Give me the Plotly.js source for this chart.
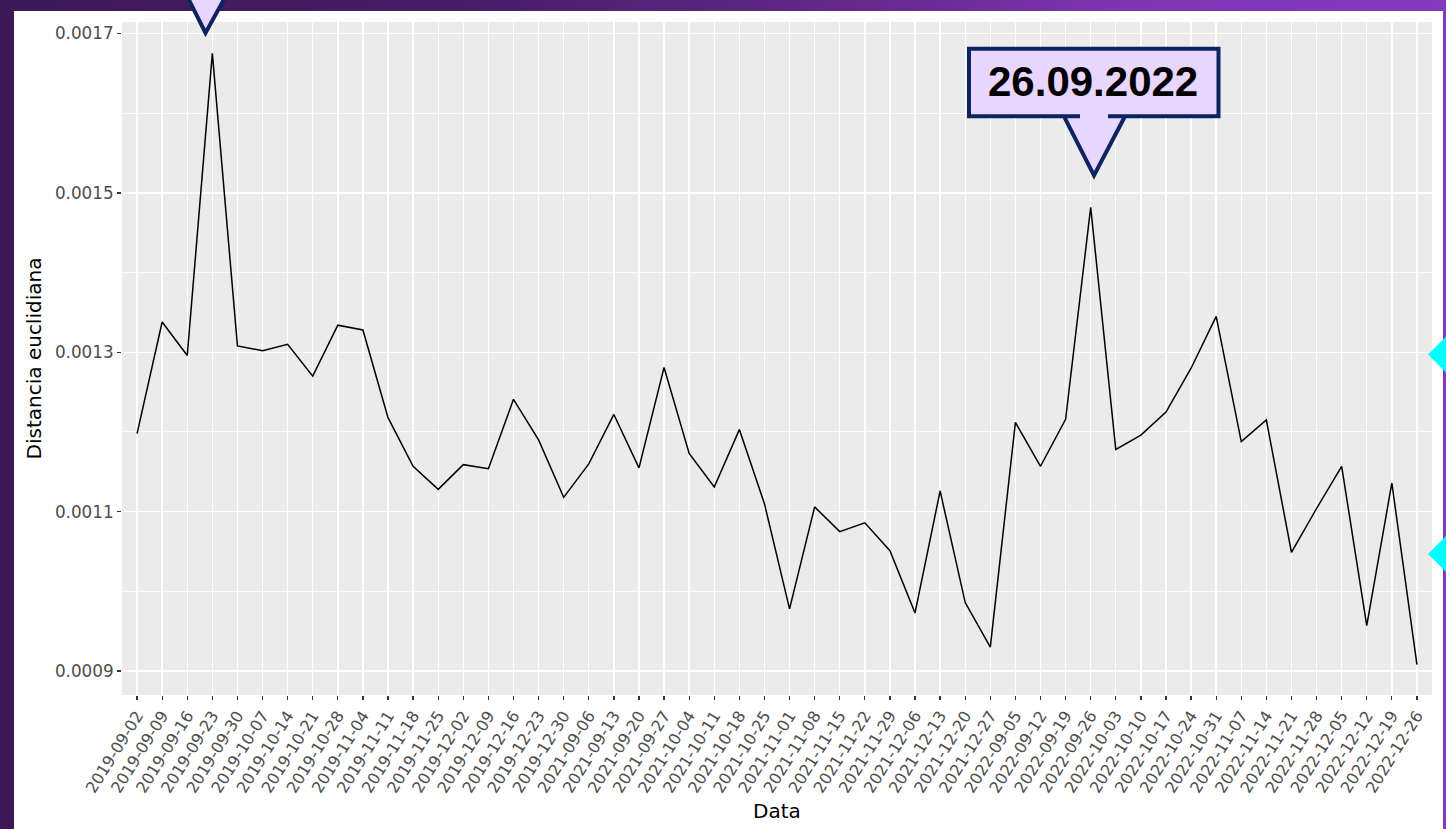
<!DOCTYPE html>
<html>
<head>
<meta charset="utf-8">
<script src="https://cdn.plot.ly/plotly-3.0.1.min.js"></script>
<style>
  html, body { margin: 0; padding: 0; width: 1446px; height: 829px; overflow: hidden; }
  body { background: linear-gradient(90deg, #3c1857 0%, #4a1e6a 35%, #66298f 60%, #8036b5 80%, #8539bd 100%); position: relative; }
  #card { position: absolute; left: 14px; top: 11px; width: 1429px; height: 818px; background: #ffffff; }
  #chart { position: absolute; left: 0; top: 0; width: 1446px; height: 829px; }
</style>
</head>
<body>
<div id="card"></div>
<div id="chart"></div>
<script>
// ---- data ----
const weeks = [
  "2019-09-02","2019-09-09","2019-09-16","2019-09-23","2019-09-30","2019-10-07","2019-10-14",
  "2019-10-21","2019-10-28","2019-11-04","2019-11-11","2019-11-18","2019-11-25","2019-12-02",
  "2019-12-09","2019-12-16","2019-12-23","2019-12-30",
  "2021-09-06","2021-09-13","2021-09-20","2021-09-27","2021-10-04","2021-10-11","2021-10-18",
  "2021-10-25","2021-11-01","2021-11-08","2021-11-15","2021-11-22","2021-11-29","2021-12-06",
  "2021-12-13","2021-12-20","2021-12-27",
  "2022-09-05","2022-09-12","2022-09-19","2022-09-26","2022-10-03","2022-10-10","2022-10-17",
  "2022-10-24","2022-10-31","2022-11-07","2022-11-14","2022-11-21","2022-11-28","2022-12-05",
  "2022-12-12","2022-12-19","2022-12-26"
];
const distancia = [
  0.001198, 0.001338, 0.001296, 0.001675, 0.001308, 0.001302, 0.001310,
  0.001270, 0.001334, 0.001328, 0.001218, 0.001157, 0.001128, 0.001159,
  0.001154, 0.001241, 0.001190, 0.001118,
  0.001160, 0.001222, 0.001155, 0.001281, 0.001173, 0.001131, 0.001203,
  0.001110, 0.000978, 0.001106, 0.001075, 0.001086, 0.001051, 0.000973,
  0.001126, 0.000986, 0.000930,
  0.001212, 0.001157, 0.001216, 0.001482, 0.001178, 0.001196, 0.001225,
  0.001280, 0.001345, 0.001188, 0.001215, 0.001049, 0.001104, 0.001157,
  0.000957, 0.001136, 0.000908
];
const yTickVals = [0.0009, 0.0011, 0.0013, 0.0015, 0.0017];
const yTickText = ["0.0009", "0.0011", "0.0013", "0.0015", "0.0017"];
const calloutText = "26.09.2022";

// ---- decoration geometry helpers (page px -> paper) ----
const W = 1446, H = 829;
const M = { l: 122, r: 14, t: 22, b: 134 };
const PW = W - M.l - M.r, PH = H - M.t - M.b;
function P(x, y) { return ((x - M.l) / PW).toFixed(5) + "," + ((H - M.b - y) / PH).toFixed(5); }

const navy = "#0d2460";
const lav = "#e9d6ff";

const shapes = [
  // top-left callout pointer (body hidden above the frame)
  { type: "path", xref: "paper", yref: "paper", layer: "above",
    path: "M" + P(185, -8) + " L" + P(205.5, 33) + " L" + P(228, -8) + " Z",
    fillcolor: lav, line: { color: navy, width: 4 } },
  // 26.09.2022 callout fill
  { type: "path", xref: "paper", yref: "paper", layer: "above",
    path: "M" + P(969, 48.7) + " L" + P(1218.5, 48.7) + " L" + P(1218.5, 116.3) + " L" + P(1125, 116.3) +
          " L" + P(1094, 175.5) + " L" + P(1064, 116.3) + " L" + P(969, 116.3) + " Z",
    fillcolor: lav, line: { width: 0 } },
  // callout outline
  { type: "path", xref: "paper", yref: "paper", layer: "above",
    path: "M" + P(1080, 116.3) + " L" + P(969, 116.3) + " L" + P(969, 48.7) + " L" + P(1218.5, 48.7) +
          " L" + P(1218.5, 116.3) + " L" + P(1108, 116.3) +
          " M" + P(1064, 116.3) + " L" + P(1094, 175.5) + " L" + P(1125, 116.3),
    fillcolor: "rgba(0,0,0,0)", line: { color: navy, width: 4 } },
  // cyan diamonds on right edge
  { type: "path", xref: "paper", yref: "paper", layer: "above",
    path: "M" + P(1428, 354.5) + " L" + P(1446, 336.5) + " L" + P(1464, 354.5) + " L" + P(1446, 372.5) + " Z",
    fillcolor: "#00ffff", line: { width: 0 } },
  { type: "path", xref: "paper", yref: "paper", layer: "above",
    path: "M" + P(1428, 554) + " L" + P(1446, 536) + " L" + P(1464, 554) + " L" + P(1446, 572) + " Z",
    fillcolor: "#00ffff", line: { width: 0 } }
];

const trace = {
  type: "scatter", mode: "lines",
  x: weeks, y: distancia,
  line: { color: "#000000", width: 1.5 },
  hoverinfo: "x+y"
};

const xTickFont = { family: "DejaVu Sans, Verdana, sans-serif", size: 16, color: "#4d4d4d" };
const yTickFont = { family: "DejaVu Sans, Verdana, sans-serif", size: 16.8, color: "#4d4d4d" };
const titleFont = { family: "DejaVu Sans, Verdana, sans-serif", size: 20, color: "#000000" };

const layout = {
  width: W, height: H,
  margin: M,
  paper_bgcolor: "rgba(0,0,0,0)",
  plot_bgcolor: "#ebebeb",
  showlegend: false,
  xaxis: {
    type: "category",
    range: [-0.6, weeks.length - 0.4],
    tickmode: "linear", tick0: 0, dtick: 1,
    tickangle: -58,
    tickfont: xTickFont,
    ticks: "outside", ticklen: 4, tickwidth: 1.3, tickcolor: "#333333",
    showgrid: true, gridcolor: "#ffffff", gridwidth: 1.4,
    zeroline: false, showline: false,
    title: { text: "Data", font: titleFont, standoff: 8 },
    fixedrange: true
  },
  yaxis: {
    range: [0.00087, 0.0017144],
    tickmode: "array", tickvals: yTickVals, ticktext: yTickText,
    tickfont: yTickFont,
    ticks: "outside", ticklen: 4, tickwidth: 1.3, tickcolor: "#333333",
    showgrid: true, gridcolor: "#ffffff", gridwidth: 1.5,
    minor: { tickmode: "array", tickvals: [0.0010, 0.0012, 0.0014, 0.0016], showgrid: true, gridcolor: "#ffffff", gridwidth: 0.8, ticks: "" },
    zeroline: false, showline: false,
    title: { text: "Distancia euclidiana", font: titleFont, standoff: 7 },
    fixedrange: true
  },
  shapes: shapes,
  annotations: [
    { xref: "paper", yref: "paper", x: Number(P(1093.5, 82).split(",")[0]), y: Number(P(1093.5, 82).split(",")[1]),
      xanchor: "center", yanchor: "middle", showarrow: false, text: calloutText,
      font: { family: "Arial, 'Liberation Sans', sans-serif", size: 42, weight: 700, color: "#000000" } }
  ]
};

Plotly.newPlot("chart", [trace], layout, { displayModeBar: false, staticPlot: true });
</script>
</body>
</html>
